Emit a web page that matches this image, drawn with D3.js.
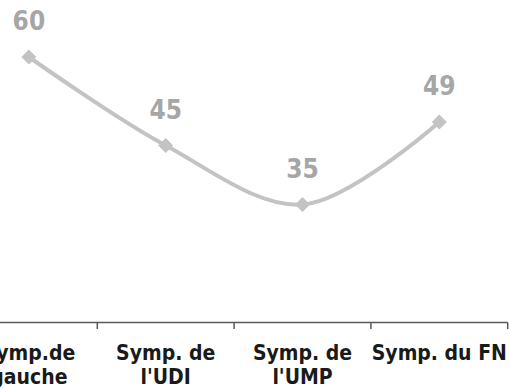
<!DOCTYPE html>
<html>
<head>
<meta charset="utf-8">
<script src="https://cdn.jsdelivr.net/npm/d3@7"></script>
<style>
  html, body { margin: 0; padding: 0; background: #ffffff; }
  svg { display: block; }
  text { font-family: "DejaVu Sans Condensed", "DejaVu Sans", sans-serif; font-weight: bold; }
</style>
</head>
<body>
<svg id="chart" width="510" height="389"></svg>
<script>
// Categories (each split into the lines it is drawn on)
const categories = ["Symp.de gauche", "Symp. de l'UDI", "Symp. de l'UMP", "Symp. du FN"];
const categoryLines = [["Symp.de", "gauche"], ["Symp. de", "l'UDI"], ["Symp. de", "l'UMP"], ["Symp. du FN"]];
// Series values
const values = [60, 45, 35, 49];

const svg = d3.select("#chart");

// Band scale runs partly off the left edge, as in the original layout
const x = d3.scaleBand().domain(categories).range([-39.5, 507.7]).padding(0);
const y = d3.scaleLinear().domain([15, 65]).range([322.5, 27.5]);

const cx = d => x(d) + x.bandwidth() / 2;
const data = categories.map((c, i) => ({ cat: c, value: values[i], lines: categoryLines[i] }));

// Category axis: baseline with ticks between bands
const axisY = y.domain()[0];
const axis = svg.append("g");
axis.append("line")
  .attr("x1", x.range()[0]).attr("x2", x.range()[1])
  .attr("y1", y(axisY)).attr("y2", y(axisY))
  .attr("stroke", "#595959").attr("stroke-width", 1.5);
axis.selectAll("line.tick")
  .data(categories)
  .join("line")
  .attr("class", "tick")
  .attr("x1", d => x(d) + x.bandwidth()).attr("x2", d => x(d) + x.bandwidth())
  .attr("y1", y(axisY)).attr("y2", y(axisY) + 6.5)
  .attr("stroke", "#595959").attr("stroke-width", 1.5);

// Category labels
const labels = axis.selectAll("text.cat")
  .data(data)
  .join("text")
  .attr("class", "cat")
  .attr("text-anchor", "middle")
  .attr("fill", "#1a1a1a")
  .attr("font-size", 21);
labels.selectAll("tspan")
  .data(d => d.lines.map(l => ({ line: l, x: cx(d.cat) })))
  .join("tspan")
  .attr("x", d => d.x)
  .attr("y", (d, i) => 360 + i * 24)
  .text(d => d.line);

// Smoothed line
const line = d3.line()
  .x(d => cx(d.cat))
  .y(d => y(d.value))
  .curve(d3.curveCatmullRom.alpha(0.5));

svg.append("path")
  .datum(data)
  .attr("d", line)
  .attr("fill", "none")
  .attr("stroke", "#c3c3c3")
  .attr("stroke-width", 4);

// Diamond markers
const half = 7.5;
svg.selectAll("path.marker")
  .data(data)
  .join("path")
  .attr("class", "marker")
  .attr("transform", d => `translate(${cx(d.cat)},${y(d.value)})`)
  .attr("d", `M0,${-half}L${half},0L0,${half}L${-half},0Z`)
  .attr("fill", "#c3c3c3");

// Value labels
svg.selectAll("text.val")
  .data(data)
  .join("text")
  .attr("class", "val")
  .attr("x", d => cx(d.cat))
  .attr("y", d => y(d.value) - 27)
  .attr("text-anchor", "middle")
  .attr("fill", "#a6a6a6")
  .attr("font-size", 26)
  .text(d => d.value);
</script>
</body>
</html>
